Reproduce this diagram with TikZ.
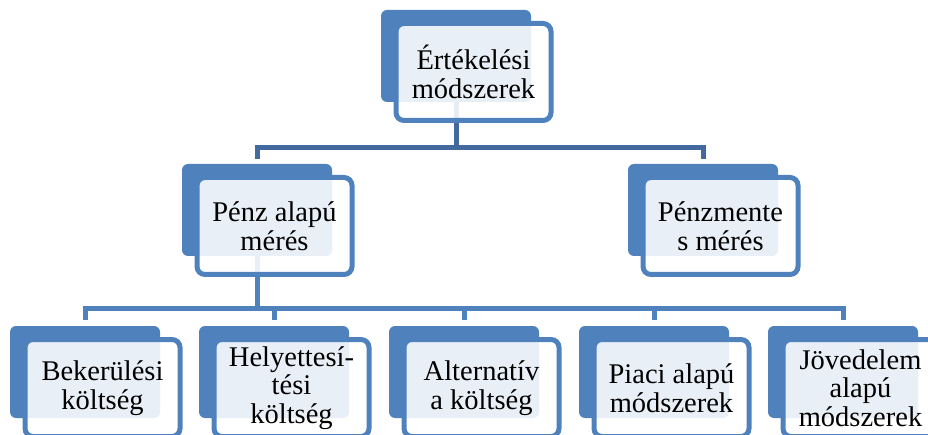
\documentclass[tikz,border=0pt]{standalone}
\usepackage{fontspec}
\setmainfont{Liberation Serif}
\usepackage{tikz}
\usetikzlibrary{backgrounds}
\usepackage{xcolor}
\definecolor{smblue}{RGB}{79,129,189}
\definecolor{smdark}{RGB}{66,106,158}
\tikzstyle{backbox} = [rectangle, rounded corners=6pt, minimum width=150pt, minimum height=92pt, fill=smblue, inner sep=0pt, outer sep=0pt]
\tikzstyle{frontbox} = [rectangle, rounded corners=8pt, minimum width=155pt, minimum height=97pt, draw=smblue, line width=5pt, fill=white, fill opacity=0.88, text opacity=1, align=center, inner sep=0pt, outer sep=0pt, font=\rmfamily\fontsize{28.5}{28.5}\selectfont]
\tikzstyle{link} = [line width=5pt, color=smblue]

\begin{document}
\begin{tikzpicture}[x=1pt, y=-1pt]
\useasboundingbox (0,0) rectangle (928,435);
\clip (0,0) rectangle (928,435);
% top level
\node (evalb) [backbox] at (456,56) {};
\node (eval) [frontbox] at (473.5,72) {Értékelési\\módszerek};
% second level
\node (penzb) [backbox] at (257,210) {};
\node (penz) [frontbox] at (274.5,226) {Pénz alapú\\mérés};
\node (nonpenzb) [backbox] at (703,210) {};
\node (nonpenz) [frontbox] at (720.5,226) {Pénzmente\\s mérés};
% third level
\node (bekb) [backbox] at (85,372) {};
\node (bek) [frontbox] at (102.5,388) {Bekerülési\\költség};
\node (helyb) [backbox] at (274,372) {};
\node (hely) [frontbox] at (291.5,388) {Helyettesí-\\tési\\költség};
\node (altb) [backbox] at (464,372) {};
\node (alt) [frontbox] at (481.5,388) {Alternatív\\a költség};
\node (piacb) [backbox] at (654,372) {};
\node (piac) [frontbox] at (671.5,388) {Piaci alapú\\módszerek};
\node (jovb) [backbox] at (843,372) {};
\node (jov) [frontbox] at (860.5,388) {Jövedelem\\alapú\\módszerek};
\coordinate (topsplit) at (456,148);
\coordinate (midsplit) at (257,308.5);
\begin{scope}[on background layer]
\draw[link, color=smdark] (evalb) -- (topsplit);
\draw[link, color=smdark] ([yshift=5pt]penzb.north) |- (topsplit) -| ([yshift=5pt]nonpenzb.north);
\draw[link] (penzb) -- (midsplit);
\draw[link] ([yshift=6pt]bekb.north) |- (midsplit) -| ([yshift=6pt]jovb.north);
\foreach \n in {helyb,altb,piacb}
  \draw[link] ([yshift=6pt]\n.north) -- (\n.north |- midsplit);
\end{scope}
\end{tikzpicture}
\end{document}
